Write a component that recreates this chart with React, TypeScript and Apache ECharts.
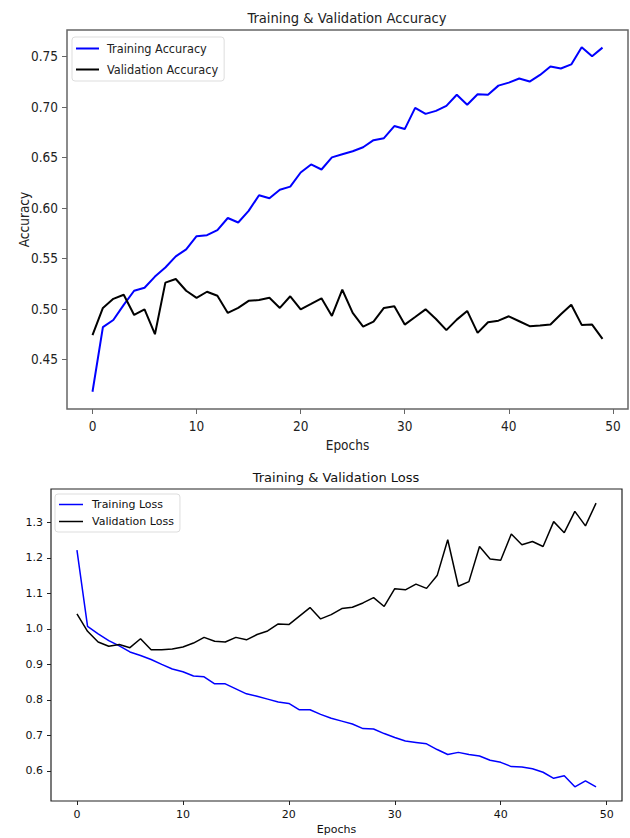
import React, { useEffect, useRef } from "react";
import * as echarts from "echarts";

const trainAcc = [
  0.418, 0.482, 0.489, 0.504, 0.518, 0.521, 0.532, 0.541, 0.552, 0.559,
  0.572, 0.573, 0.578, 0.59, 0.5855, 0.597, 0.6125, 0.6095, 0.618, 0.621,
  0.635, 0.643, 0.638, 0.65, 0.653, 0.656, 0.66, 0.667, 0.669, 0.681,
  0.678, 0.699, 0.693, 0.696, 0.701, 0.712, 0.702, 0.7125, 0.712, 0.721,
  0.724, 0.728, 0.725, 0.7316, 0.74, 0.738, 0.742, 0.759, 0.75, 0.7586,
];
const valAcc = [
  0.474, 0.501, 0.51, 0.514, 0.494, 0.4996, 0.475, 0.526, 0.5296, 0.518,
  0.511, 0.517, 0.513, 0.496, 0.501, 0.508, 0.5088, 0.511, 0.501, 0.5125,
  0.4996, 0.505, 0.5105, 0.493, 0.519, 0.496, 0.4825, 0.4875, 0.501, 0.5026,
  0.4845, 0.492, 0.4996, 0.49, 0.479, 0.4894, 0.498, 0.4763, 0.4868, 0.4884,
  0.4927, 0.4878, 0.4829, 0.4835, 0.4845, 0.4947, 0.5042, 0.4842, 0.4845, 0.4703,
];
const trainLoss = [
  1.222, 1.007, 0.986, 0.967, 0.952, 0.935, 0.925, 0.9135, 0.9, 0.887,
  0.879, 0.867, 0.865, 0.845, 0.845, 0.831, 0.817, 0.81, 0.802, 0.794,
  0.79, 0.772, 0.772, 0.759, 0.748, 0.74, 0.732, 0.719, 0.718, 0.705,
  0.694, 0.684, 0.68, 0.676, 0.66, 0.646, 0.652, 0.646, 0.642, 0.63,
  0.624, 0.612, 0.611, 0.606, 0.596, 0.579, 0.586, 0.555, 0.572, 0.555,
];
const valLoss = [
  1.042, 0.993, 0.963, 0.951, 0.956, 0.947, 0.972, 0.941, 0.941, 0.943,
  0.949, 0.96, 0.976, 0.965, 0.963, 0.976, 0.969, 0.984, 0.994, 1.014,
  1.012, 1.036, 1.06, 1.028, 1.04, 1.057, 1.061, 1.073, 1.088, 1.063,
  1.113, 1.11, 1.126, 1.114, 1.15, 1.251, 1.12, 1.133, 1.232, 1.197,
  1.193, 1.267, 1.237, 1.246, 1.232, 1.302, 1.271, 1.331, 1.29, 1.354,
];
const epochTicks = [0, 10, 20, 30, 40, 50];
const accTicks = [0.45, 0.5, 0.55, 0.6, 0.65, 0.7, 0.75];
const lossTicks = [0.6, 0.7, 0.8, 0.9, 1.0, 1.1, 1.2, 1.3];

const COND = "'DejaVu Sans Condensed', 'DejaVu Sans', sans-serif";
const SANS = "'DejaVu Sans', sans-serif";

function range(arrs: number[][]) {
  const all = arrs.flat();
  const lo = Math.min(...all);
  const hi = Math.max(...all);
  const m = (hi - lo) * 0.05;
  return [lo - m, hi + m];
}

export default function App() {
  const ref = useRef<HTMLDivElement>(null);
  useEffect(() => {
    if (!ref.current) return;
    const chart = echarts.init(ref.current, null, { renderer: "svg" });
    const n = trainAcc.length;
    const xr = [0 - (n - 1) * 0.05, n - 1 + (n - 1) * 0.05];
    const accR = range([trainAcc, valAcc]);
    const lossR = range([trainLoss, valLoss]);
    const pts = (a: number[]) => a.map((v, i) => [i, v]);

    const topAxisColor = "#666";
    const botAxisColor = "#222";
    const TF = 13.5;

    chart.setOption({
      animation: false,
      backgroundColor: "#fff",
      graphic: [
        {
          type: "text",
          x: 347,
          y: 17,
          style: {
            text: "Training & Validation Accuracy",
            font: `14.6px ${COND}`,
            fill: "#222",
            textAlign: "center",
            textVerticalAlign: "middle",
          },
        },
        {
          type: "text",
          x: 336,
          y: 477,
          style: {
            text: "Training & Validation Loss",
            font: `13px ${SANS}`,
            fill: "#111",
            textAlign: "center",
            textVerticalAlign: "middle",
          },
        },
      ],
      grid: [
        {
          left: 67,
          top: 30,
          width: 561,
          height: 379,
          show: true,
          borderColor: topAxisColor,
          borderWidth: 1.5,
          containLabel: false,
          outerBoundsMode: "none",
        },
        {
          left: 51,
          top: 489,
          width: 571,
          height: 312,
          show: true,
          borderColor: botAxisColor,
          borderWidth: 1.2,
          containLabel: false,
          outerBoundsMode: "none",
        },
      ],
      legend: [
        {
          data: ["Training Accuracy", "Validation Accuracy"],
          orient: "vertical",
          left: 72,
          top: 37,
          icon: "rect",
          itemWidth: 23,
          itemHeight: 2,
          itemGap: 6,
          padding: [4, 6, 4, 4],
          borderColor: "#ddd",
          borderWidth: 1,
          borderRadius: 3,
          backgroundColor: "rgba(255,255,255,0.8)",
          textStyle: {
            fontFamily: COND,
            fontSize: 12.6,
            color: "#222",
            lineHeight: 15,
            padding: [0, 0, 0, 3],
          },
        },
        {
          data: ["Training Loss", "Validation Loss"],
          orient: "vertical",
          left: 55,
          top: 494,
          icon: "rect",
          itemWidth: 24,
          itemHeight: 1.5,
          itemGap: 4,
          padding: [4, 6, 4, 4],
          borderColor: "#ddd",
          borderWidth: 1,
          borderRadius: 3,
          backgroundColor: "rgba(255,255,255,0.8)",
          textStyle: {
            fontFamily: SANS,
            fontSize: 11,
            color: "#111",
            lineHeight: 13,
            padding: [0, 0, 0, 4],
          },
        },
      ],
      xAxis: [
        {
          type: "value",
          gridIndex: 0,
          min: xr[0],
          max: xr[1],
          name: "Epochs",
          nameLocation: "middle",
          nameGap: 29,
          nameMoveOverlap: false,
          nameTextStyle: { fontFamily: COND, fontSize: TF, color: "#222" },
          splitLine: { show: false },
          axisLine: { show: false, onZero: false },
          axisTick: {
            show: true,
            length: 5,
            customValues: epochTicks,
            lineStyle: { color: topAxisColor, width: 1 },
          },
          axisLabel: {
            customValues: epochTicks,
            margin: 10,
            fontFamily: COND,
            fontSize: TF,
            color: "#222",
          },
        },
        {
          type: "value",
          gridIndex: 1,
          min: xr[0],
          max: xr[1],
          name: "Epochs",
          nameLocation: "middle",
          nameGap: 23,
          nameMoveOverlap: false,
          nameTextStyle: { fontFamily: SANS, fontSize: 11, color: "#111" },
          splitLine: { show: false },
          axisLine: { show: false, onZero: false },
          axisTick: {
            show: true,
            length: 4,
            customValues: epochTicks,
            lineStyle: { color: botAxisColor, width: 1 },
          },
          axisLabel: {
            customValues: epochTicks,
            margin: 8,
            fontFamily: SANS,
            fontSize: 11,
            color: "#111",
          },
        },
      ],
      yAxis: [
        {
          type: "value",
          gridIndex: 0,
          min: accR[0],
          max: accR[1],
          name: "Accuracy",
          nameLocation: "middle",
          nameGap: 36,
          nameMoveOverlap: false,
          nameTextStyle: { fontFamily: COND, fontSize: TF, color: "#222" },
          splitLine: { show: false },
          axisLine: { show: false, onZero: false },
          axisTick: {
            show: true,
            length: 5,
            customValues: accTicks,
            lineStyle: { color: topAxisColor, width: 1 },
          },
          axisLabel: {
            customValues: accTicks,
            margin: 9,
            fontFamily: COND,
            fontSize: TF,
            color: "#222",
            formatter: (v: number) => v.toFixed(2),
          },
        },
        {
          type: "value",
          gridIndex: 1,
          min: lossR[0],
          max: lossR[1],
          splitLine: { show: false },
          axisLine: { show: false, onZero: false },
          axisTick: {
            show: true,
            length: 4,
            customValues: lossTicks,
            lineStyle: { color: botAxisColor, width: 1 },
          },
          axisLabel: {
            customValues: lossTicks,
            margin: 8,
            fontFamily: SANS,
            fontSize: 11,
            color: "#111",
            formatter: (v: number) => v.toFixed(1),
          },
        },
      ],
      series: [
        {
          name: "Training Accuracy",
          type: "line",
          xAxisIndex: 0,
          yAxisIndex: 0,
          data: pts(trainAcc),
          symbol: "none",
          color: "#0000ff",
          lineStyle: { width: 2, color: "#0000ff" },
        },
        {
          name: "Validation Accuracy",
          type: "line",
          xAxisIndex: 0,
          yAxisIndex: 0,
          data: pts(valAcc),
          symbol: "none",
          color: "#000",
          lineStyle: { width: 2, color: "#000" },
        },
        {
          name: "Training Loss",
          type: "line",
          xAxisIndex: 1,
          yAxisIndex: 1,
          data: pts(trainLoss),
          symbol: "none",
          color: "#0000ff",
          lineStyle: { width: 1.5, color: "#0000ff" },
        },
        {
          name: "Validation Loss",
          type: "line",
          xAxisIndex: 1,
          yAxisIndex: 1,
          data: pts(valLoss),
          symbol: "none",
          color: "#000",
          lineStyle: { width: 1.5, color: "#000" },
        },
      ],
    });
    return () => chart.dispose();
  }, []);
  return (
    <div
      ref={ref}
      style={{ position: "fixed", left: 0, top: 0, width: 630, height: 838 }}
    />
  );
}
